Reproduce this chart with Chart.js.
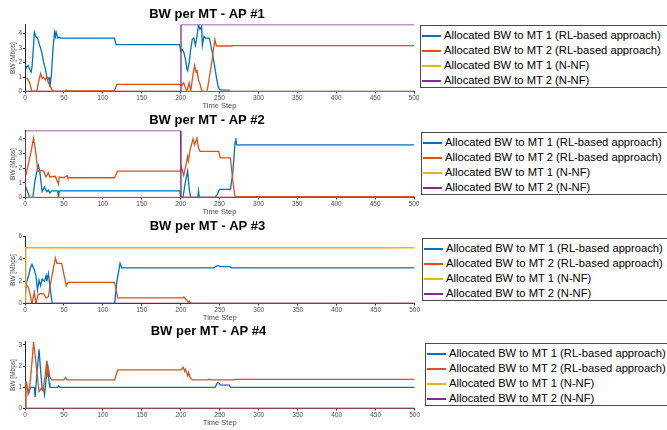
<!DOCTYPE html>
<html>
<head>
<meta charset="utf-8">
<script src="https://cdn.jsdelivr.net/npm/chart.js@4.4.1/dist/chart.umd.min.js"></script>
<style>
  body { margin: 0; width: 667px; height: 430px; overflow: hidden; background: #fff; position: relative;
         font-family: "Liberation Sans", Arial, sans-serif; }
  canvas { position: absolute; left: 0; }
  .legend { position: absolute; border: 1px solid #4a4a4a; background: #fff; width: 262px; height: 63px;
            padding-top: 2px; box-sizing: border-box; font-size: 11.2px; color: #000; }
  .legend div { height: 15px; line-height: 15px; white-space: nowrap; position: relative; padding-left: 23px; }
  .legend span { position: absolute; left: 1px; top: 7px; width: 19px; height: 2px; }
</style>
</head>
<body>
<canvas id="ap1" width="421" height="111"></canvas>
<canvas id="ap2" width="421" height="111"></canvas>
<canvas id="ap3" width="421" height="111"></canvas>
<canvas id="ap4" width="421" height="111"></canvas>

<script>
const seriesNames = [
  "Allocated BW to MT 1 (RL-based approach)",
  "Allocated BW to MT 2 (RL-based approach)",
  "Allocated BW to MT 1 (N-NF)",
  "Allocated BW to MT 2 (N-NF)"
];
const colors = ["#0072BD", "#D95319", "#EDB120", "#7E2F8E"];
const titles = ["BW per MT - AP #1", "BW per MT - AP #2", "BW per MT - AP #3", "BW per MT - AP #4"];
const yMaxes = [4.63, 4.57, 6, 3.16];
const yTickSteps = [1, 1, 2, 1];

// AP #1, [time step, BW]
const ap1Rl1 = [[0,1.88],[2,1.65],[4,1.8],[6,1.55],[8,1.35],[9,1.7],[11,3.2],[12,4.1],[14,3.8],[16,3.7],[18,3.35],[20,3.0],[22,2.6],[24,2.0],[26,1.6],[28,1.0],[30,0.9],[31,0.95],[32,0.3],[34,1.2],[36,3.0],[38,4.1],[39,3.8],[40,4.1],[42,3.7],[44,3.75],[46,3.7],[115,3.7],[117,3.25],[199,3.25],[200,2.8],[202,2.9],[204,2.75],[206,2.3],[208,1.6],[209,1.45],[211,2.0],[213,2.9],[215,3.6],[217,3.7],[219,3.2],[221,3.8],[223,4.6],[225,4.3],[227,4.5],[228,3.2],[230,3.8],[232,3.7],[237,3.7],[240,2.9],[243,2.0],[246,1.0],[248,0.4],[250,0.15],[252,0.1],[262,0.1],[263,0],[500,0]];
const ap1Rl2 = [[0,0.85],[3,0.9],[6,0.6],[8,0.2],[9,0],[15,0],[18,0.8],[20,1.25],[22,0.9],[24,1.0],[26,0.8],[28,1.0],[30,0.6],[33,0.3],[36,0],[51,0],[53,0.1],[55,0.05],[115,0.05],[118,0.5],[200,0.5],[201,0.4],[204,0.6],[206,0.3],[208,0],[211,0.6],[213,0],[216,1.2],[218,1.8],[220,1.3],[221,1.5],[223,0.8],[225,0.5],[227,0.1],[229,0],[234,0],[240,2.0],[244,3.6],[246,3.15],[265,3.15],[266,3.17],[500,3.17]];
const ap1Nnf1 = [[0,0],[500,0]];
const ap1Nnf2 = [[0,0],[200,0],[200.5,4.63],[500,4.63]];

// AP #2
const ap2Rl1 = [[0,0.85],[3,0.45],[6,0],[10,0],[13,1.2],[17,2.2],[19,1.8],[22,0.4],[25,0.7],[28,0.4],[30,0.5],[32,0.3],[34,0.45],[42,0.45],[43,0],[44,0.45],[199,0.45],[200,0],[203,0],[206,1.0],[209,1.8],[211,0.6],[213,0],[222,0],[223,0.45],[224,0],[244,0],[247,0.2],[250,0.55],[264,0.55],[267,1.6],[270,3.8],[271,4.05],[272,3.6],[500,3.6]];
const ap2Rl2 = [[0,1.3],[4,2.2],[8,3.2],[11,4.05],[14,3.0],[16,2.0],[17,1.8],[21,1.85],[24,1.8],[27,1.4],[30,1.7],[32,1.4],[39,1.45],[43,0.9],[44,1.4],[50,1.35],[54,1.5],[55,1.35],[115,1.35],[119,1.8],[200,1.8],[201,2.1],[204,1.5],[206,2.0],[209,2.8],[210,2.5],[212,3.2],[214,3.6],[216,4.0],[218,3.6],[221,4.05],[223,3.4],[225,3.15],[249,3.15],[251,2.7],[264,2.7],[267,1.2],[270,0.05],[500,0.05]];
const ap2Nnf1 = [[0,0],[500,0]];
const ap2Nnf2 = [[0,0],[0.5,4.57],[200,4.57],[200.5,0],[500,0]];

// AP #3
const ap3Rl1 = [[0,0.5],[2,1.9],[5,2.6],[7,3.2],[9,3.5],[12,3.0],[14,2.5],[16,1.2],[18,2.1],[20,1.6],[22,2.2],[25,2.0],[27,2.5],[28,2.0],[30,2.7],[32,1.5],[35,0],[115,0],[118,2.0],[122,3.6],[124,3.2],[242,3.2],[247,3.4],[251,3.3],[263,3.3],[265,3.2],[500,3.2]];
const ap3Rl2 = [[0,1.9],[4,1.5],[6,1.0],[8,0.3],[9,0],[12,1.0],[14,0],[17,0.8],[21,0.9],[24,0.85],[27,0.5],[30,0.6],[32,1.5],[36,3.0],[39,4.1],[41,3.6],[47,3.6],[50,2.6],[53,1.6],[55,1.9],[115,1.9],[119,0.5],[202,0.5],[204,0.6],[206,0.4],[208,0.3],[210,0.05],[211,0.2],[213,0],[500,0]];
const ap3Nnf1 = [[0,0],[1,5],[500,5]];
const ap3Nnf2 = [[0,0],[500,0]];

// AP #4
const ap4Rl1 = [[0,0],[1,1.2],[3,1.0],[5,0.75],[7,1.0],[12,1.0],[13,0.55],[15,1.5],[18,2.8],[20,1.8],[22,0.95],[24,0.9],[25,0.65],[26,1.0],[28,1.7],[29,2.0],[31,1.2],[32,1.0],[42,1.0],[43,1.07],[45,1.0],[244,1.0],[247,1.22],[249,1.2],[251,1.1],[262,1.1],[264,1.0],[500,1.0]];
const ap4Rl2 = [[0,0],[1,1.25],[2,1.25],[4,0.68],[6,1.0],[9,2.2],[11,3.15],[13,2.5],[16,1.5],[18,0.8],[21,0.95],[23,0.85],[26,1.6],[28,2.25],[28.5,1.5],[30,1.9],[32,1.5],[34,1.35],[50,1.35],[52,1.47],[54,1.35],[115,1.35],[119,1.82],[200,1.82],[203,1.95],[205,1.75],[206,1.85],[209,1.55],[210,1.7],[212,1.45],[215,1.35],[234,1.35],[236,1.38],[240,1.35],[268,1.35],[270,1.38],[500,1.38]];
const ap4Nnf1 = [[0,0],[500,0]];
const ap4Nnf2 = [[0,0],[500,0]];

const panels = [
  { id: "ap1", top: 0,   padRight: 7, series: [ap1Rl1, ap1Rl2, ap1Nnf1, ap1Nnf2], legend: [420, 25] },
  { id: "ap2", top: 106, padRight: 7, series: [ap2Rl1, ap2Rl2, ap2Nnf1, ap2Nnf2], legend: [421, 132] },
  { id: "ap3", top: 212, padRight: 6, series: [ap3Rl1, ap3Rl2, ap3Nnf1, ap3Nnf2], legend: [422, 238] },
  { id: "ap4", top: 317, padRight: 4, series: [ap4Rl1, ap4Rl2, ap4Nnf1, ap4Nnf2], legend: [425, 343] }
];

const tickColor = "#4d4d4d";
const axisColor = "#262626";

panels.forEach((p, k) => {
  const canvas = document.getElementById(p.id);
  canvas.style.top = p.top + "px";

  new Chart(canvas.getContext("2d"), {
    type: "line",
    data: {
      datasets: p.series.map((data, i) => ({
        label: seriesNames[i],
        data: data,
        borderColor: colors[i],
        borderWidth: 1.3,
        pointRadius: 0,
        tension: 0,
        fill: false,
        order: 3 - i
      }))
    },
    options: {
      responsive: false,
      animation: false,
      devicePixelRatio: 1,
      layout: { padding: { left: 0, right: p.padRight, top: 0, bottom: 0 } },
      plugins: {
        legend: { display: false },
        tooltip: { enabled: false },
        title: {
          display: true,
          text: titles[k],
          color: "#000",
          font: { family: "Liberation Sans", size: 13, weight: "bold" },
          padding: { top: 7, bottom: 2 }
        }
      },
      scales: {
        x: {
          type: "linear",
          min: 0,
          max: 500,
          ticks: { stepSize: 50, color: tickColor, font: { family: "Liberation Sans", size: 6.5 }, padding: 1, maxRotation: 0, autoSkip: false },
          grid: { display: true, drawOnChartArea: false, tickLength: 2, color: axisColor },
          border: { color: axisColor },
          title: { display: true, text: "Time Step", color: tickColor, font: { family: "Liberation Sans", size: 7.5 }, padding: { top: 0, bottom: 0.5 } },
          afterFit(scale) { scale.height = 19.5; }
        },
        y: {
          min: 0,
          max: yMaxes[k],
          ticks: { stepSize: yTickSteps[k], includeBounds: false, color: tickColor, font: { family: "Liberation Sans", size: 6.5 }, padding: 1 },
          grid: { display: true, drawOnChartArea: false, tickLength: 2, color: axisColor },
          border: { color: axisColor },
          title: { display: true, text: "BW [Mbps]", color: tickColor, font: { family: "Liberation Sans", size: 6.5 }, padding: { top: 9, bottom: 0 } },
          afterFit(scale) { scale.width = 25; }
        }
      }
    }
  });

  const box = document.createElement("div");
  box.className = "legend";
  box.style.left = p.legend[0] + "px";
  box.style.top = p.legend[1] + "px";
  seriesNames.forEach((name, i) => {
    const row = document.createElement("div");
    const line = document.createElement("span");
    line.style.background = colors[i];
    row.appendChild(line);
    row.appendChild(document.createTextNode(name));
    box.appendChild(row);
  });
  document.body.appendChild(box);
});
</script>
</body>
</html>
